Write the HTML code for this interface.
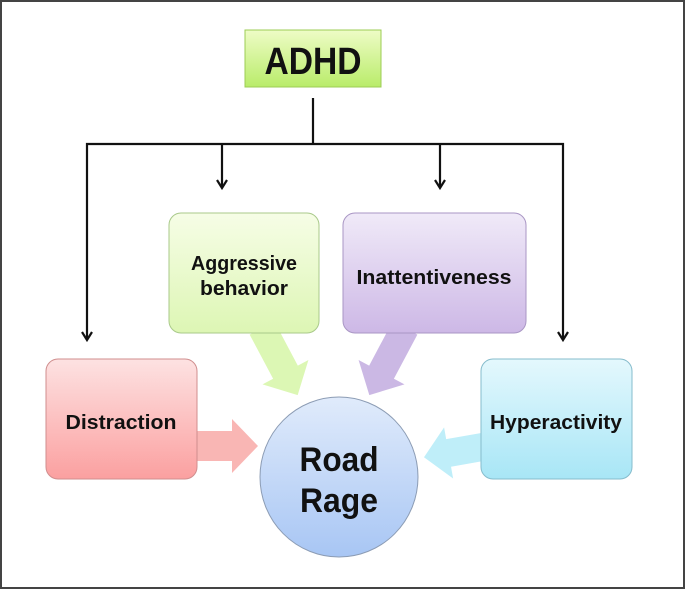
<!DOCTYPE html>
<html><head><meta charset="utf-8"><style>
html,body{margin:0;padding:0;background:#fff}
svg{display:block}
text{font-family:"Liberation Sans",sans-serif;font-weight:bold;fill:#111}
</style></head><body>
<svg width="685" height="589" viewBox="0 0 685 589" xmlns="http://www.w3.org/2000/svg">
<defs>
<linearGradient id="gG" x1="0" y1="0" x2="0" y2="1"><stop offset="0" stop-color="#eefcc6"/><stop offset="1" stop-color="#b9ec6a"/></linearGradient>
<linearGradient id="gA" x1="0" y1="0" x2="0" y2="1"><stop offset="0" stop-color="#f6fde6"/><stop offset="1" stop-color="#ddf6b4"/></linearGradient>
<linearGradient id="gP" x1="0" y1="0" x2="0" y2="1"><stop offset="0" stop-color="#f0eaf8"/><stop offset="1" stop-color="#cdb8e6"/></linearGradient>
<linearGradient id="gR" x1="0" y1="0" x2="0" y2="1"><stop offset="0" stop-color="#fde2e2"/><stop offset="1" stop-color="#fba0a0"/></linearGradient>
<linearGradient id="gC" x1="0" y1="0" x2="0" y2="1"><stop offset="0" stop-color="#e4f8fd"/><stop offset="1" stop-color="#a8e6f6"/></linearGradient>
<linearGradient id="gB" x1="0" y1="0" x2="0" y2="1"><stop offset="0" stop-color="#e0ebfb"/><stop offset="1" stop-color="#a8c6f4"/></linearGradient>
</defs>
<rect x="1" y="1" width="683" height="587" fill="#fff" stroke="#444" stroke-width="2"/>
<g stroke="#111" stroke-width="2.2" fill="none">
<line x1="313" y1="98" x2="313" y2="144"/>
<polyline points="87,340 87,144 563,144 563,340"/>
<line x1="222" y1="144" x2="222" y2="186"/>
<line x1="440" y1="144" x2="440" y2="186"/>
<polyline points="217,180 222,188 227,180"/>
<polyline points="435,180 440,188 445,180"/>
<polyline points="82,332 87,340 92,332"/>
<polyline points="558,332 563,340 568,332"/>
</g>
<g opacity="0.85">
<g transform="translate(262,328) rotate(62)"><polygon points="0,-14 50,-14 50,-26 76,0 50,26 50,14 0,14" fill="#d6f6a8"/></g>
<g transform="translate(405,328) rotate(118)"><polygon points="0,-14 50,-14 50,-26 76,0 50,26 50,14 0,14" fill="#c2ace0"/></g>
<g transform="translate(190,446)"><polygon points="0,-15 42,-15 42,-27 68,0 42,27 42,15 0,15" fill="#f9aaa8"/></g>
<g transform="translate(488,446) rotate(170)"><polygon points="0,-14 40,-14 40,-26 65,0 40,26 40,14 0,14" fill="#b4ecf8"/></g>
</g>
<rect x="245" y="30" width="136" height="57" fill="url(#gG)" stroke="#9ccc55" stroke-width="1"/>
<text x="313" y="74" font-size="38" text-anchor="middle" textLength="97" lengthAdjust="spacingAndGlyphs">ADHD</text>
<rect x="169" y="213" width="150" height="120" rx="12" fill="url(#gA)" stroke="#a9c98a" stroke-width="1"/>
<text x="244" y="270" font-size="20" text-anchor="middle" textLength="106" lengthAdjust="spacingAndGlyphs">Aggressive</text>
<text x="244" y="295" font-size="20" text-anchor="middle" textLength="88" lengthAdjust="spacingAndGlyphs">behavior</text>
<rect x="343" y="213" width="183" height="120" rx="12" fill="url(#gP)" stroke="#a996c4" stroke-width="1"/>
<text x="434" y="284" font-size="20" text-anchor="middle" textLength="155" lengthAdjust="spacingAndGlyphs">Inattentiveness</text>
<rect x="46" y="359" width="151" height="120" rx="12" fill="url(#gR)" stroke="#d08e8e" stroke-width="1"/>
<text x="121" y="429" font-size="20" text-anchor="middle" textLength="111" lengthAdjust="spacingAndGlyphs">Distraction</text>
<rect x="481" y="359" width="151" height="120" rx="12" fill="url(#gC)" stroke="#86bccc" stroke-width="1"/>
<text x="556" y="429" font-size="20" text-anchor="middle" textLength="132" lengthAdjust="spacingAndGlyphs">Hyperactivity</text>
<ellipse cx="339" cy="477" rx="79" ry="80" fill="url(#gB)" stroke="#8c9cb4" stroke-width="1"/>
<text x="339" y="471" font-size="34" text-anchor="middle" textLength="79" lengthAdjust="spacingAndGlyphs">Road</text>
<text x="339" y="512" font-size="34" text-anchor="middle" textLength="78" lengthAdjust="spacingAndGlyphs">Rage</text>
</svg>
</body></html>
